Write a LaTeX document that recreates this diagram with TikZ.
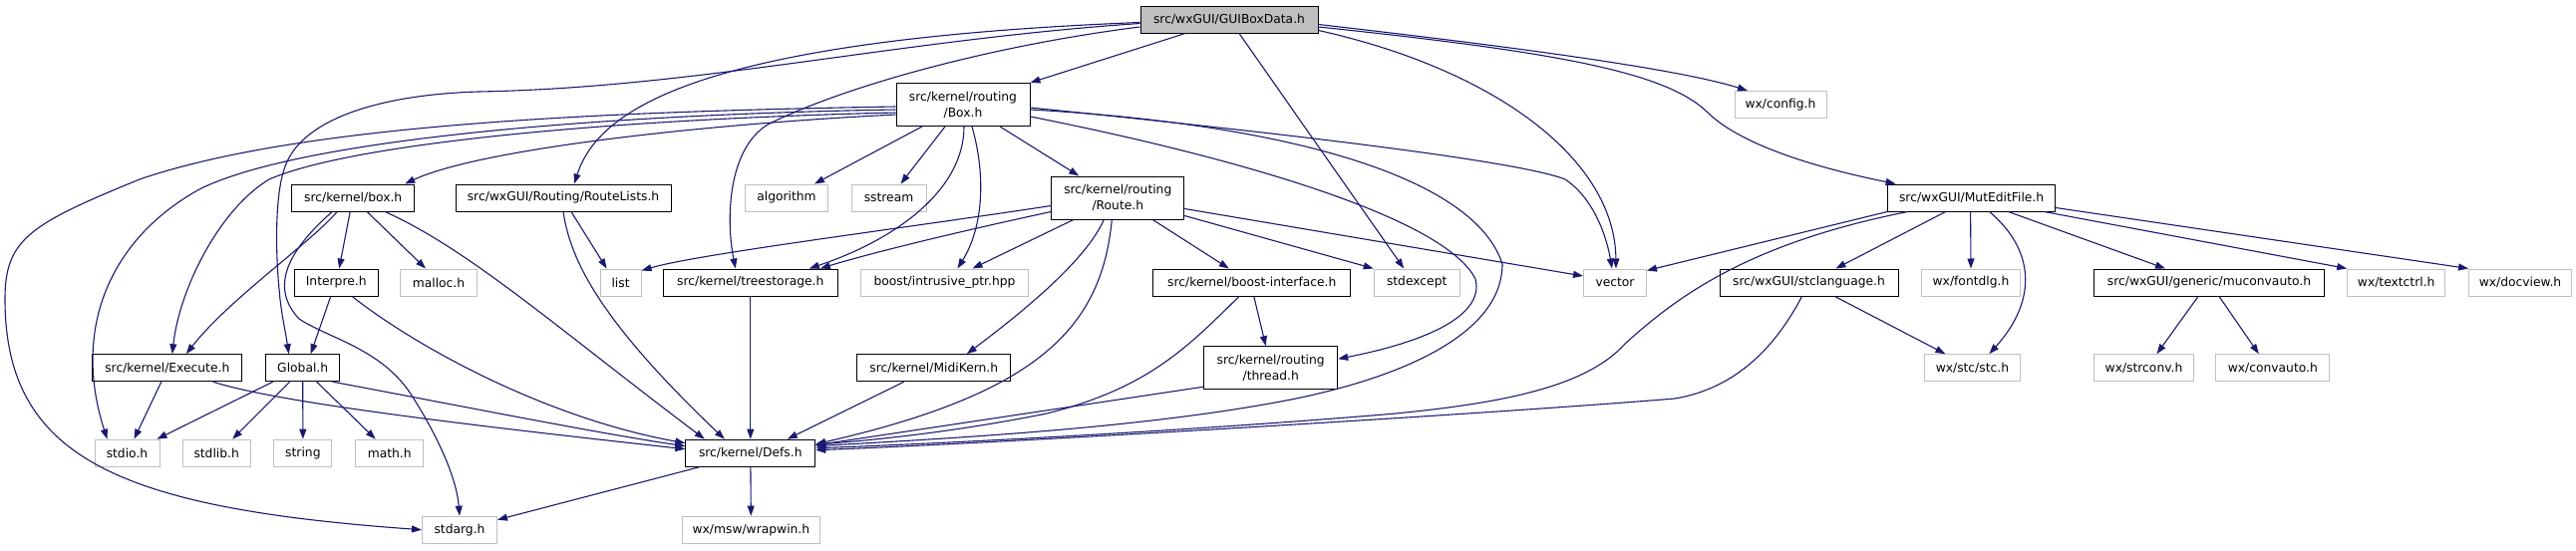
\documentclass[tikz,border=0pt]{standalone}
\usepackage{fontspec}
\setmainfont{DejaVu Sans}
\usetikzlibrary{arrows.meta}
\definecolor{edgeblue}{HTML}{191970}
\definecolor{lightbd}{HTML}{BFBFBF}
\begin{document}
\begin{tikzpicture}[x=1pt,y=-1pt,
  box/.style={draw=black,fill=white,line width=1pt,minimum height=27pt,inner sep=0pt,
    font=\fontsize{12.3}{16}\selectfont,align=center,text=black},
  ext/.style={box,draw=lightbd},
  root/.style={box,fill=lightbd},
  two/.style={minimum height=43pt},
  e/.style={draw=edgeblue,line width=1.1pt,-{Triangle[length=10pt,width=7pt]}}]
\useasboundingbox (0,0) rectangle (2584,552);
% row 1
\node[root,minimum width=178pt] (G) at (1233,19.5) {src/wxGUI/GUIBoxData.h};
% row 2
\node[box,two,minimum width=134pt] (B) at (966,105) {src/kernel/routing\\/Box.h};
\node[ext,minimum width=92pt] (config) at (1786,105) {wx/config.h};
% row 3
\node[box,minimum width=123pt] (boxh) at (354.2,198.5) {src/kernel/box.h};
\node[box,minimum width=216pt] (RouteLists) at (565,198.5) {src/wxGUI/Routing/RouteLists.h};
\node[ext,minimum width=83pt] (algorithm) at (789,198.5) {algorithm};
\node[ext,minimum width=75pt] (sstream) at (891.5,198.5) {sstream};
\node[box,two,minimum width=133pt] (Route) at (1121.3,198.5) {src/kernel/routing\\/Route.h};
\node[box,minimum width=168pt] (M) at (1977.6,198.5) {src/wxGUI/MutEditFile.h};
% row 4
\node[box,minimum width=84pt] (Interpre) at (337.2,283.5) {Interpre.h};
\node[ext,minimum width=77pt] (malloc) at (440,283.5) {malloc.h};
\node[ext,minimum width=41pt] (list) at (622.6,283.5) {list};
\node[box,minimum width=175pt] (treestorage) at (752.8,283.5) {src/kernel/treestorage.h};
\node[ext,minimum width=168pt] (intrusive) at (947.5,283.5) {boost/intrusive\_ptr.hpp};
\node[box,minimum width=198pt] (boostif) at (1255.8,283.5) {src/kernel/boost-interface.h};
\node[ext,minimum width=86pt] (stdexcept) at (1421.2,283.5) {stdexcept};
\node[ext,minimum width=63pt] (vector) at (1620,283.5) {vector};
\node[box,minimum width=179pt] (stcl) at (1814.5,283.5) {src/wxGUI/stclanguage.h};
\node[ext,minimum width=99pt] (fontdlg) at (1977,283.5) {wx/fontdlg.h};
\node[box,minimum width=231pt] (muconv) at (2216,283.5) {src/wxGUI/generic/muconvauto.h};
\node[ext,minimum width=98pt] (textctrl) at (2403.7,283.5) {wx/textctrl.h};
\node[ext,minimum width=103pt] (docview) at (2528,283.5) {wx/docview.h};
% row 5
\node[box,minimum width=150pt] (Execute) at (167.8,369.2) {src/kernel/Execute.h};
\node[box,minimum width=74pt] (Global) at (303.7,369.2) {Global.h};
\node[box,minimum width=154pt] (MidiKern) at (936.8,369.2) {src/kernel/MidiKern.h};
\node[box,two,minimum width=134pt] (thread) at (1274.7,369.2) {src/kernel/routing\\/thread.h};
\node[ext,minimum width=96pt] (stc) at (1978.4,369.2) {wx/stc/stc.h};
\node[ext,minimum width=100pt] (strconv) at (2150.5,369.2) {wx/strconv.h};
\node[ext,minimum width=114pt] (convauto) at (2279.8,369.2) {wx/convauto.h};
% row 6
\node[ext,minimum width=65pt] (stdio) at (127.5,454.7) {stdio.h};
\node[ext,minimum width=68pt] (stdlib) at (217.2,454.7) {stdlib.h};
\node[ext,minimum width=58pt] (string) at (303.9,454.7) {string};
\node[ext,minimum width=68pt] (math) at (390.7,454.7) {math.h};
\node[box,minimum width=130pt] (Defs) at (752.8,454.7) {src/kernel/Defs.h};
% row 7
\node[ext,minimum width=75pt] (stdarg) at (461,531.7) {stdarg.h};
\node[ext,minimum width=138pt] (wrapwin) at (753.4,531.7) {wx/msw/wrapwin.h};

% GUIBoxData.h
\draw[e] ([xshift=-44pt]G.south) -- (B.north east);
\draw[e] ([xshift=10pt]G.south) -- ([xshift=-13pt]stdexcept.north);
\draw[e] ([yshift=-11pt]G.east) .. controls (1500,70) and (1620,160) .. ([xshift=1pt]vector.north);
\draw[e] ([yshift=-5pt]G.east) .. controls (1500,45) and (1680,68) .. ([xshift=-33pt]config.north);
\draw[e] ([yshift=-7.5pt]G.east) .. controls (1560,52) and (1670,72) .. (1712,112) .. controls (1745,145) and (1820,168) .. ([xshift=-76pt]M.north);
\draw[e] ([yshift=-3pt]G.west) .. controls (700,40) and (600,110) .. ([xshift=11pt]RouteLists.north);
\draw[e] ([yshift=-4pt]G.west) .. controls (900,40) and (700,88) .. (480,92) .. controls (380,95) and (300,120) .. (285,170) .. controls (275,200) and (277,260) .. (280,290) .. controls (282,315) and (286,330) .. ([xshift=-14pt]Global.north);
\draw[e] ([yshift=-7.5pt]G.west) .. controls (1000,45) and (850,85) .. (770,125) .. controls (730,150) and (728,220) .. ([xshift=-15pt]treestorage.north);
% Box.h
\draw[e] ([yshift=-10pt]B.west) .. controls (700,125) and (480,150) .. ([xshift=52pt]boxh.north);
\draw[e] ([yshift=-2pt]B.west) .. controls (600,112) and (300,125) .. (140,180) .. controls (30,225) and (5,240) .. (5,300) .. controls (5,460) and (120,510) .. (stdarg.west);
\draw[e] ([yshift=-5pt]B.west) .. controls (600,115) and (300,140) .. (200,190) .. controls (110,240) and (72,330) .. ([xshift=-20pt]stdio.north);
\draw[e] ([yshift=-8pt]B.west) .. controls (600,120) and (350,145) .. (270,180) .. controls (220,210) and (180,290) .. ([xshift=5pt]Execute.north);
\draw[e] ([xshift=-41pt]B.south) -- ([xshift=28pt]algorithm.north);
\draw[e] ([xshift=-18pt]B.south) -- ([xshift=12pt]sstream.north);
\draw[e] ([xshift=37pt]B.south) -- ([xshift=-39pt]Route.north);
\draw[e] ([xshift=1pt]B.south) .. controls (967,190) and (900,240) .. ([xshift=59pt]treestorage.north);
\draw[e] ([xshift=9pt]B.south) .. controls (990,180) and (985,230) .. ([xshift=13pt]intrusive.north);
\draw[e] ([yshift=-3pt]B.east) .. controls (1250,130) and (1520,160) .. (1570,180) .. controls (1600,200) and (1612,240) .. ([xshift=-3pt]vector.north);
\draw[e] ([yshift=-12pt]B.east) .. controls (1250,160) and (1450,220) .. (1480,280) .. controls (1490,320) and (1420,345) .. ([yshift=9pt]thread.east);
\draw[e] ([yshift=-5pt]B.east) .. controls (1300,125) and (1480,180) .. (1507,265) .. controls (1507,330) and (1420,375) .. (1300,400) .. controls (1150,430) and (950,440) .. ([yshift=7pt]Defs.east);
% Route.h
\draw[e] ([yshift=-8pt]Route.west) .. controls (900,230) and (700,255) .. ([yshift=-2pt]list.north east);
\draw[e] ([yshift=-14pt]Route.west) .. controls (950,235) and (870,255) .. ([xshift=70pt]treestorage.north);
\draw[e] ([xshift=-44.5pt]Route.south) -- ([xshift=28pt]intrusive.north);
\draw[e] ([xshift=35pt]Route.south) -- ([xshift=-23pt]boostif.north);
\draw[e] ([yshift=-18pt]Route.east) -- (stdexcept.north west);
\draw[e] ([yshift=-11pt]Route.east) -- ([yshift=6.5pt]vector.west);
\draw[e] ([xshift=-14pt]Route.south) .. controls (1090,260) and (1030,310) .. ([xshift=33pt]MidiKern.north);
\draw[e] ([xshift=-6pt]Route.south) .. controls (1105,330) and (1040,395) .. ([yshift=9pt]Defs.east);
% boost-interface.h, thread.h, MidiKern.h, treestorage.h
\draw[e] ([xshift=2pt]boostif.south) -- ([xshift=-5pt]thread.north);
\draw[e] ([xshift=-13pt]boostif.south) .. controls (1190,350) and (1150,390) .. (1050,415) .. controls (950,435) and (870,442) .. ([yshift=8.5pt]Defs.east);
\draw[e] ([yshift=-19pt]thread.west) -- ([yshift=8pt]Defs.east);
\draw[e] ([xshift=-30pt]MidiKern.south) -- ([xshift=37pt]Defs.north);
\draw[e] (treestorage) -- (Defs);
% RouteLists.h
\draw[e] ([xshift=8pt]RouteLists.south) -- ([xshift=-14pt]list.north);
\draw[e] (RouteLists.south) .. controls (572,260) and (600,320) .. ([xshift=-26pt]Defs.north);
% box.h
\draw[e] ([xshift=-3pt]boxh.south) -- ([xshift=3pt]Interpre.north);
\draw[e] ([xshift=14pt]boxh.south) -- ([xshift=-13pt]malloc.north);
\draw[e] ([xshift=-16pt]boxh.south) .. controls (310,245) and (230,300) .. ([xshift=19pt]Execute.north);
\draw[e] ([xshift=-21pt]boxh.south) .. controls (285,255) and (272,290) .. (300,320) .. controls (330,340) and (385,350) .. (415,400) .. controls (440,440) and (458,480) .. (stdarg.north);
\draw[e] ([xshift=32pt]boxh.south) .. controls (470,250) and (560,330) .. ([xshift=-46pt]Defs.north);
% Interpre.h
\draw[e] ([xshift=-5.5pt]Interpre.south) -- ([xshift=8pt]Global.north);
\draw[e] ([xshift=16pt]Interpre.south) .. controls (420,350) and (550,420) .. ([yshift=10pt]Defs.west);
% Execute.h
\draw[e] ([xshift=-6pt]Execute.south) -- ([xshift=7pt]stdio.north);
\draw[e] ([xshift=46pt]Execute.south) .. controls (280,405) and (500,430) .. ([yshift=4pt]Defs.west);
% Global.h
\draw[e] ([xshift=-30pt]Global.south) -- ([xshift=-3pt]stdio.north east);
\draw[e] ([xshift=-13pt]Global.south) -- ([xshift=16pt]stdlib.north);
\draw[e] (Global) -- (string);
\draw[e] ([xshift=14pt]Global.south) -- ([xshift=-14pt]math.north);
\draw[e] ([xshift=30pt]Global.south) .. controls (450,405) and (600,435) .. ([yshift=7pt]Defs.west);
% Defs.h
\draw[e] ([xshift=-51pt]Defs.south) -- ([yshift=10pt]stdarg.east);
\draw[e] (Defs) -- (wrapwin);
% MutEditFile.h
\draw[e] (M.south west) -- ([yshift=12pt]vector.east);
\draw[e] ([xshift=-64pt]M.south) .. controls (1750,245) and (1680,300) .. (1630,345) .. controls (1590,390) and (1500,405) .. (1400,415) .. controls (1200,432) and (950,445) .. ([yshift=5pt]Defs.east);
\draw[e] ([xshift=-26pt]M.south) -- ([xshift=27pt]stcl.north);
\draw[e] ([xshift=-1pt]M.south) -- (fontdlg.north);
\draw[e] ([xshift=18pt]M.south) .. controls (2040,250) and (2045,300) .. ([xshift=17pt]stc.north);
\draw[e] ([xshift=37pt]M.south) -- ([xshift=-44pt]muconv.north);
\draw[e] ([xshift=73pt]M.south) -- (textctrl.north west);
\draw[e] ([yshift=-10pt]M.east) -- (docview.north west);
% stclanguage.h
\draw[e] ([xshift=26pt]stcl.south) -- ([xshift=-27pt]stc.north);
\draw[e] ([xshift=-7pt]stcl.south) .. controls (1780,350) and (1740,390) .. (1680,400) .. controls (1500,415) and (1000,445) .. ([yshift=3pt]Defs.east);
% muconvauto.h
\draw[e] ([xshift=-11pt]muconv.south) -- ([xshift=13pt]strconv.north);
\draw[e] ([xshift=10pt]muconv.south) -- ([xshift=-14pt]convauto.north);
\end{tikzpicture}
\end{document}
